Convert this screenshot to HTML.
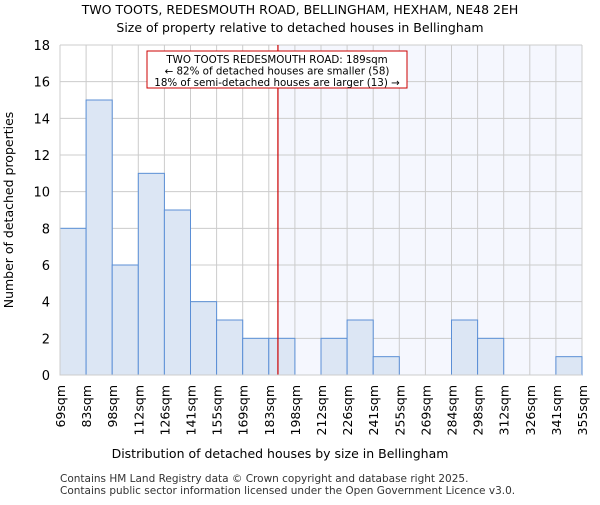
<!DOCTYPE html>
<html><head><meta charset="utf-8"><style>
body{margin:0;background:#fff}
svg{font-family:"DejaVu Sans","Liberation Sans",sans-serif}
</style></head><body>
<svg id="chart" width="600" height="500" viewBox="0 0 600 500">
<text x="300" y="14" font-size="12.5" text-anchor="middle" fill="#000">TWO TOOTS, REDESMOUTH ROAD, BELLINGHAM, HEXHAM, NE48 2EH</text>
<text x="300" y="32" font-size="12.5" text-anchor="middle" fill="#000">Size of property relative to detached houses in Bellingham</text>
<g id="plot"></g>
<text x="280" y="458" font-size="12.5" text-anchor="middle">Distribution of detached houses by size in Bellingham</text>
<text transform="translate(13,210) rotate(-90)" font-size="12.5" text-anchor="middle">Number of detached properties</text>
<text x="60" y="482" font-size="10.5" fill="#333">Contains HM Land Registry data © Crown copyright and database right 2025.</text>
<text x="60" y="494" font-size="10.5" fill="#333">Contains public sector information licensed under the Open Government Licence v3.0.</text>
</svg>
<script>
const edgeLabels=["69sqm","83sqm","98sqm","112sqm","126sqm","141sqm","155sqm","169sqm","183sqm","198sqm","212sqm","226sqm","241sqm","255sqm","269sqm","284sqm","298sqm","312sqm","326sqm","341sqm","355sqm"];
const counts=[8,15,6,11,9,4,3,2,2,0,2,3,1,0,0,3,2,0,0,1];
const yTicks=[0,2,4,6,8,10,12,14,16,18];
const markerBin=8.35;
const L=60,R=582,T=45,B=375,yMax=18;
const n=counts.length;
const xs=i=>L+(R-L)*i/n;
const ys=v=>B-(B-T)*v/yMax;
const NS="http://www.w3.org/2000/svg";
const g=document.getElementById('plot');
function mk(t,a){const e=document.createElementNS(NS,t);for(const k in a)e.setAttribute(k,a[k]);g.appendChild(e);return e;}
const mx=xs(markerBin);
let sh=mk('rect',{x:mx,y:T,width:R-mx,height:B-T,fill:'#f5f7fe'});


yTicks.forEach(v=>{
 let l=mk('line',{x1:L,x2:R,y1:ys(v),y2:ys(v),stroke:'#cccccc','stroke-width':1});
 
 
 let t=mk('text',{x:L-10,y:ys(v)+5,'font-size':13,'text-anchor':'end'});
 t.textContent=v;
 
 
});
edgeLabels.forEach((s,i)=>{
 let l=mk('line',{x1:xs(i),x2:xs(i),y1:T,y2:B,stroke:'#cccccc','stroke-width':1});
 
 
 let t=mk('text',{transform:`translate(${xs(i)+5},${B+10}) rotate(-90)`,'font-size':12.5,'text-anchor':'end'});
 t.textContent=s;
 
 
});
counts.forEach((c,i)=>{
 if(c<=0)return;
 let r=mk('rect',{x:xs(i),y:ys(c),width:xs(i+1)-xs(i),height:B-ys(c),fill:'#dce6f4',stroke:'#5b8fd6','stroke-width':1});
 
 
});
let ml=mk('line',{x1:mx,x2:mx,y1:T,y2:B,stroke:'#cc0000','stroke-width':1.2});


let bx=mk('rect',{x:147,y:51,width:260,height:37,fill:'#fff',stroke:'#cc0000','stroke-width':1});


["TWO TOOTS REDESMOUTH ROAD: 189sqm","← 82% of detached houses are smaller (58)","18% of semi-detached houses are larger (13) →"].forEach((s,i)=>{
 let t=mk('text',{x:277,y:63+i*11.5,'font-size':10.3,'text-anchor':'middle'});
 t.textContent=s;
 
 
});
let ax=mk('path',{d:`M${L} ${T}V${B}H${R}`,fill:'none',stroke:'#cccccc'});


</script>
</body></html>
